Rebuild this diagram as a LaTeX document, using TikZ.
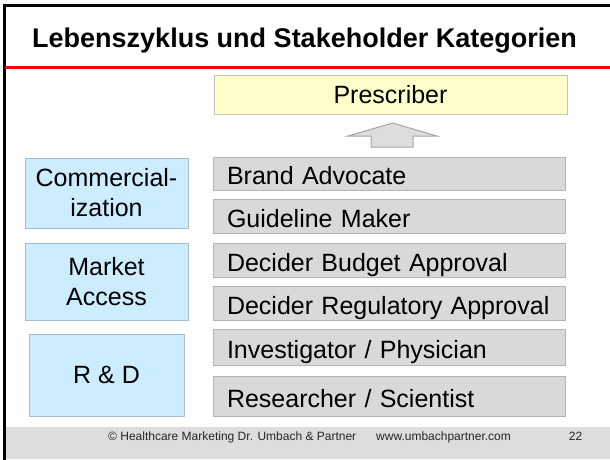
\documentclass[tikz,border=0pt]{standalone}
\usepackage{fontspec}
\setmainfont{Liberation Sans}
\definecolor{stakefill}{HTML}{D9D9D9}
\definecolor{stakeline}{HTML}{B4B4B4}
\definecolor{phasefill}{HTML}{CCECFF}
\definecolor{phaseline}{HTML}{A9BCCB}
\definecolor{topfill}{HTML}{FFFFCC}
\definecolor{topline}{HTML}{C4C4B4}
\definecolor{footfill}{HTML}{DDDDDD}
\definecolor{arrowfill}{HTML}{DDDDDD}
\definecolor{arrowline}{HTML}{A6A6A6}
\begin{document}
\begin{tikzpicture}[x=1pt,y=-1pt,
  boxbase/.style={draw, line width=1pt, inner sep=0pt, outer sep=0pt,
    anchor=north west, font=\fontsize{25}{30}\selectfont},
  stake/.style={boxbase, fill=stakefill, draw=stakeline,
    minimum width=352pt, inner xsep=14pt, text width=324pt, align=left,
    text height=22pt, text depth=0pt},
  phase/.style={boxbase, fill=phasefill, draw=phaseline, align=center},
  topbox/.style={boxbase, fill=topfill, draw=topline,
    minimum width=353pt, minimum height=39pt, text height=18pt, text depth=0pt},
  foot/.style={inner sep=0pt, anchor=base west, text=black!85,
    font=\fontsize{12}{14}\selectfont},
  upshape/.style={fill=arrowfill, draw=arrowline, line width=1pt, line join=miter}]

% page area
\useasboundingbox (0,0) rectangle (610,459);
\fill[white] (0,0) rectangle (610,459);

% footer band and slide frame
\fill[footfill] (4.7,427) rectangle (610,459);
\draw[line width=2.5pt, line join=miter] (4.7,470) -- (4.7,5.3) -- (620,5.3);

% title and rule
\node[inner sep=0pt, anchor=base west, font=\fontsize{27}{32}\selectfont\bfseries]
  (title) at (32,47) {Lebenszyklus und Stakeholder Kategorien};
\draw[red, line width=3pt] (5,67) -- (620,67);

% target stakeholder
\node[topbox] (pres) at (214,75) {Prescriber};

% upward block arrow
\draw[upshape] (371,147) -- (371,136) -- (348,136) -- (392.5,123)
  -- (437,136) -- (413,136) -- (413,147) -- cycle;

% stakeholder categories
\node[stake, minimum height=33pt] (brand) at (213,157) {Brand Advocate};
\node[stake, minimum height=34pt] (guide) at (213,199) {Guideline Maker};
\node[stake, minimum height=34pt] (budget) at (213,243) {Decider Budget Approval};
\node[stake, minimum height=34pt] (regul) at (213,286) {Decider Regulatory Approval};
\node[stake, minimum height=36pt] (invest) at (213,329) {Investigator / Physician};
\node[stake, minimum height=40pt] (research) at (213,376) {Researcher / Scientist};

% life cycle phases
\node[phase, minimum width=163pt, minimum height=70pt] (comm) at (25,158) {Commercial-\\ization};
\node[phase, minimum width=163pt, minimum height=77pt] (access) at (25,243) {Market\\Access};
\node[phase, minimum width=155pt, minimum height=82pt] (rnd) at (29,334) {R \& D};

% footer
\node[foot] (copy) at (108,440) {© Healthcare Marketing Dr. Umbach \& Partner};
\node[foot] (web) at (376,440) {www.umbachpartner.com};
\node[foot, anchor=base] (page) at (575.5,440) {22};
\end{tikzpicture}
\end{document}
